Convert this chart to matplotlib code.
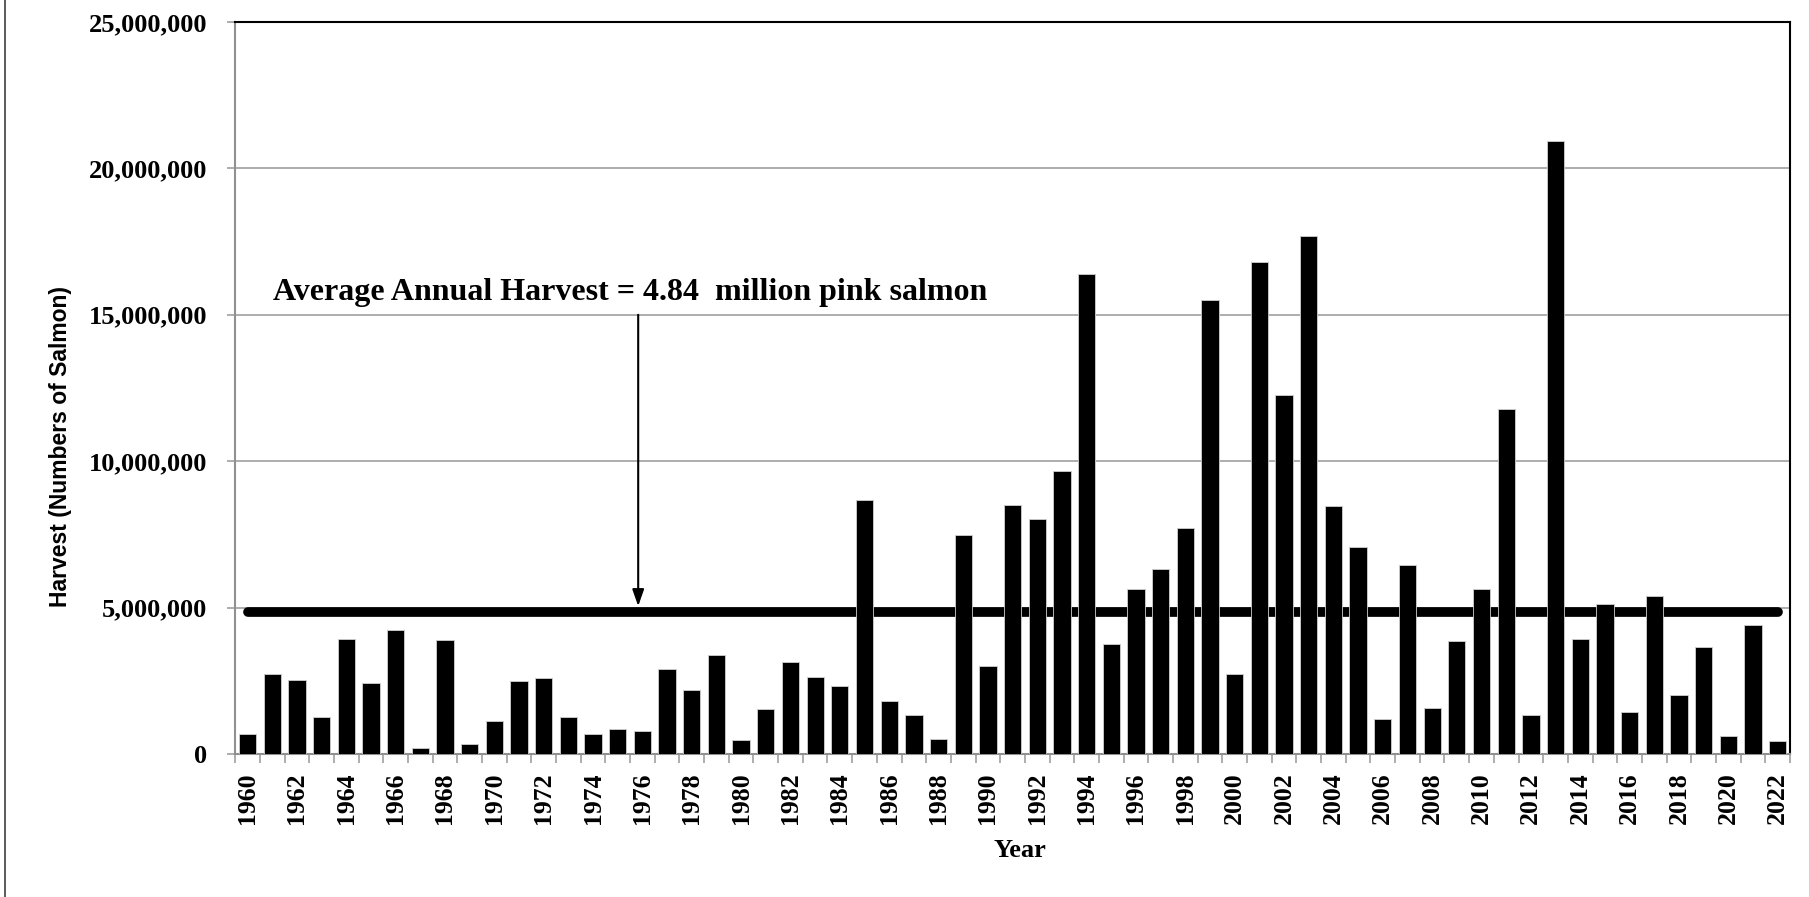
import matplotlib.pyplot as plt
import matplotlib.ticker as mticker
import numpy as np

years = list(range(1960, 2023))
harvest_millions = [
    0.67, 2.72, 2.52, 1.26, 3.94, 2.44, 4.22, 0.20, 3.90, 0.35,
    1.14, 2.48, 2.60, 1.26, 0.67, 0.87, 0.79, 2.92, 2.20, 3.39,
    0.47, 1.54, 3.15, 2.64, 2.33, 8.67, 1.81, 1.34, 0.51, 7.49,
    3.00, 8.52, 8.04, 9.66, 16.40, 3.75, 5.64, 6.31, 7.73, 15.50,
    2.72, 16.80, 12.26, 17.70, 8.48, 7.06, 1.18, 6.47, 1.58, 3.86,
    5.64, 11.79, 1.34, 20.94, 3.94, 5.13, 1.42, 5.40, 2.01, 3.67,
    0.63, 4.42, 0.43,
]
average_harvest = 4.84e6
label_years = years[::2]

harvest = np.array(harvest_millions) * 1e6
x = np.arange(len(years))

serif = "Liberation Serif"
sans = "Liberation Sans"

fig = plt.figure(figsize=(18.09, 8.97), dpi=100)
ax = fig.add_axes([0.130, 0.1594, 0.8595, 0.8161])

# average line sits under the bars
ax.plot([x[0], x[-1]], [average_harvest, average_harvest], color="black",
        lw=7, solid_capstyle="round", zorder=2)
ax.bar(x, harvest, width=0.7, color="black", edgecolor="#d0d0d0",
       linewidth=0.6, zorder=3)

ax.set_xlim(-0.5, len(years) - 0.5)
ax.set_ylim(0, 25e6)
ax.yaxis.set_major_locator(mticker.MultipleLocator(5e6))
ax.yaxis.set_major_formatter(mticker.FuncFormatter(lambda v, p: f"{v:,.0f}"))
ax.grid(axis="y", color="#a0a0a0", lw=1.2, zorder=0)
ax.set_axisbelow(True)

ax.set_xticks([years.index(y) for y in label_years])
ax.set_xticklabels([str(y) for y in label_years], rotation=90,
                   fontfamily=serif, fontweight="bold", fontsize=18.5)
ax.set_xticks(np.arange(-0.5, len(years)), minor=True)
ax.tick_params(axis="x", which="major", length=0, pad=13)
ax.tick_params(axis="x", which="minor", length=6.5, color="#a0a0a0", width=1.2)
ax.tick_params(axis="y", length=6, color="#a0a0a0", width=1.2, pad=14)
for lab in ax.get_yticklabels():
    lab.set_fontfamily(serif)
    lab.set_fontweight("bold")
    lab.set_fontsize(19)

for side in ("left", "bottom"):
    ax.spines[side].set_color("#909090")
    ax.spines[side].set_linewidth(1.5)
for side in ("top", "right"):
    ax.spines[side].set_color("black")
    ax.spines[side].set_linewidth(1.5)

fig.text(1020 / 1809, 1 - 857 / 897, "Year", fontfamily=serif, fontweight="bold",
         fontsize=19, ha="center", va="baseline")
fig.text(61 / 1809, 1 - 446 / 897, "Harvest (Numbers of Salmon)", fontfamily=sans,
         fontweight="bold", fontsize=16.5, rotation=90, ha="center", va="center")

ax.text(1.05, 15.5e6, "Average Annual Harvest = 4.84  million pink salmon",
        fontfamily=serif, fontweight="bold", fontsize=23, va="baseline", ha="left")
ax.annotate("", xy=(15.83, 5.05e6), xytext=(15.83, 15.0e6),
            arrowprops=dict(arrowstyle="-|>,head_width=0.35,head_length=1.0",
                            color="black", lw=1.5, shrinkA=0, shrinkB=0))

fig.add_artist(plt.Line2D([0.003, 0.003], [0, 1], color="#404040", lw=1.2))

fig.savefig("out.png", dpi=100)
